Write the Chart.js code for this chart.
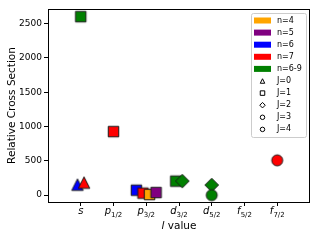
<!DOCTYPE html>
<html>
<head>
<meta charset="utf-8">
<script src="https://cdn.jsdelivr.net/npm/chart.js@4.4.1/dist/chart.umd.min.js"></script>
<style>
  html, body { margin: 0; padding: 0; background: #fff; }
  #wrap { width: 320px; height: 240px; }
</style>
</head>
<body>
<div id="wrap"><canvas id="scatterChart" width="320" height="240"></canvas></div>
<script>
//data
var lNames = ["s", "p", "p", "d", "d", "f", "f"];
var lSubs = ["", "1/2", "3/2", "3/2", "5/2", "5/2", "7/2"];

var nLabels = ["n=4", "n=5", "n=6", "n=7", "n=6-9"];
var nColors = ["#ffa500", "#800080", "#0000ff", "#ff0000", "#008000"];

var jLabels = ["J=0", "J=1", "J=2", "J=3", "J=4"];
var jShapes = ["triangle", "square", "diamond", "circle", "circle"];

// one entry per marker: l index, small x shift, n group, J, cross section
var ptL = [0, 0, 0, 1, 2, 2, 2, 2, 3, 3, 4, 4, 6];
var ptShift = [-0.1, 0.1, 0, 0, -0.3, -0.1, 0.1, 0.3, -0.1, 0.1, 0, 0, 0];
var ptN = [2, 3, 4, 3, 2, 3, 0, 1, 4, 4, 4, 4, 3];
var ptJ = [0, 0, 1, 1, 1, 1, 1, 1, 1, 2, 2, 3, 4];
var ptY = [153, 183, 2600, 926, 72, 29, 9, 38, 204, 205, 147, 0, 507];

var yTicks = [0, 500, 1000, 1500, 2000, 2500];

var FONT = "'DejaVu Sans', sans-serif";

//markers
function shapePath(ctx, shape, cx, cy, s) {
  var h = s / 2;
  ctx.beginPath();
  if (shape === "square") {
    ctx.rect(cx - h, cy - h, s, s);
  } else if (shape === "triangle") {
    ctx.moveTo(cx, cy - h);
    ctx.lineTo(cx + h, cy + h);
    ctx.lineTo(cx - h, cy + h);
    ctx.closePath();
  } else if (shape === "diamond") {
    ctx.moveTo(cx, cy - h);
    ctx.lineTo(cx + h, cy);
    ctx.lineTo(cx, cy + h);
    ctx.lineTo(cx - h, cy);
    ctx.closePath();
  } else {
    ctx.arc(cx, cy, h, 0, Math.PI * 2);
  }
}

var markerSize = { square: 10.5, triangle: 11.5, diamond: 13.5, circle: 11 };

function makeMarker(shape, fill) {
  var s = markerSize[shape];
  var c = document.createElement("canvas");
  c.width = Math.ceil(s) + 4;
  c.height = Math.ceil(s) + 4;
  var ctx = c.getContext("2d");
  shapePath(ctx, shape, c.width / 2, c.height / 2, s);
  ctx.fillStyle = fill;
  ctx.fill();
  ctx.lineWidth = 1;
  ctx.strokeStyle = "#1a1a1a";
  ctx.stroke();
  return c;
}

var points = ptY.map(function (v, i) {
  return { x: ptL[i] + ptShift[i], y: v };
});
var pointStyles = ptY.map(function (v, i) {
  return makeMarker(jShapes[ptJ[i]], nColors[ptN[i]]);
});

//extra drawing: frame, l labels, axis titles, legend
var extrasPlugin = {
  id: "extras",
  afterDraw: function (chart) {
    var ctx = chart.ctx;
    var a = chart.chartArea;
    var xs = chart.scales.x;
    ctx.save();

    ctx.strokeStyle = "#000";
    ctx.lineWidth = 1;
    ctx.strokeRect(a.left + 0.5, a.top + 0.5, a.right - a.left - 1, a.bottom - a.top);

    // x tick labels with subscripts
    ctx.fillStyle = "#000";
    ctx.textBaseline = "alphabetic";
    ctx.textAlign = "left";
    lNames.forEach(function (name, i) {
      var px = xs.getPixelForValue(i);
      ctx.font = "italic 10px " + FONT;
      var w1 = ctx.measureText(name).width;
      ctx.font = "7px " + FONT;
      var w2 = lSubs[i] ? ctx.measureText(lSubs[i]).width : 0;
      var x0 = px - (w1 + w2) / 2;
      ctx.font = "italic 10px " + FONT;
      ctx.fillText(name, x0, 214);
      if (lSubs[i]) {
        ctx.font = "7px " + FONT;
        ctx.fillText(lSubs[i], x0 + w1, 217);
      }
    });

    // x title
    ctx.textBaseline = "middle";
    ctx.font = "italic 10.5px " + FONT;
    var wl = ctx.measureText("l").width;
    ctx.font = "10.5px " + FONT;
    var wv = ctx.measureText(" value").width;
    var cx = (a.left + a.right) / 2;
    var sx = cx - (wl + wv) / 2;
    ctx.font = "italic 10.5px " + FONT;
    ctx.fillText("l", sx, 226);
    ctx.font = "10.5px " + FONT;
    ctx.fillText(" value", sx + wl, 226);

    // y title
    ctx.save();
    ctx.translate(12, (a.top + a.bottom) / 2);
    ctx.rotate(-Math.PI / 2);
    ctx.textAlign = "center";
    ctx.font = "10.5px " + FONT;
    ctx.fillText("Relative Cross Section", 0, 0);
    ctx.restore();

    // legend box
    var bx = 251.5, by = 13.5, bw = 55, bh = 124, r = 2;
    ctx.beginPath();
    ctx.moveTo(bx + r, by);
    ctx.arcTo(bx + bw, by, bx + bw, by + bh, r);
    ctx.arcTo(bx + bw, by + bh, bx, by + bh, r);
    ctx.arcTo(bx, by + bh, bx, by, r);
    ctx.arcTo(bx, by, bx + bw, by, r);
    ctx.closePath();
    ctx.fillStyle = "rgba(255,255,255,0.8)";
    ctx.fill();
    ctx.strokeStyle = "#cccccc";
    ctx.stroke();

    ctx.font = "8px " + FONT;
    ctx.textAlign = "left";
    ctx.textBaseline = "middle";
    var rowY = 20.5;
    nLabels.forEach(function (lab, i) {
      ctx.fillStyle = nColors[i];
      ctx.fillRect(254, rowY - 3, 17, 6);
      ctx.fillStyle = "#000";
      ctx.fillText(lab, 277, rowY);
      rowY += 12.1;
    });
    jLabels.forEach(function (lab, i) {
      shapePath(ctx, jShapes[i], 262.5, rowY, jShapes[i] === "diamond" ? 5.5 : 4.5);
      ctx.fillStyle = "#fff";
      ctx.fill();
      ctx.strokeStyle = "#000";
      ctx.lineWidth = 1;
      ctx.stroke();
      ctx.fillStyle = "#000";
      ctx.fillText(lab, 277, rowY);
      rowY += 12.1;
    });

    ctx.restore();
  }
};

//chart
var ctxS = document.getElementById("scatterChart").getContext("2d");
var myScatter = new Chart(ctxS, {
  type: "scatter",
  data: {
    datasets: [
      {
        data: points,
        pointStyle: pointStyles,
        pointRadius: 6,
        backgroundColor: ptN.map(function (n) { return nColors[n]; })
      }
    ]
  },
  options: {
    responsive: false,
    animation: false,
    events: [],
    layout: { padding: { left: 0, top: 9, right: 10, bottom: 0 } },
    plugins: {
      legend: { display: false },
      tooltip: { enabled: false }
    },
    scales: {
      x: {
        type: "linear",
        min: -1,
        max: 7,
        afterBuildTicks: function (scale) {
          scale.ticks = lNames.map(function (n, i) { return { value: i }; });
        },
        afterFit: function (scale) { scale.height = 38; },
        ticks: { callback: function () { return ""; } },
        grid: { drawOnChartArea: false, drawTicks: true, tickLength: 4, color: "#000" },
        border: { display: false }
      },
      y: {
        min: -100,
        max: 2712,
        afterBuildTicks: function (scale) {
          scale.ticks = yTicks.map(function (v) { return { value: v }; });
        },
        afterFit: function (scale) { scale.width = 48; },
        ticks: {
          padding: 2,
          color: "#000",
          font: { family: "DejaVu Sans", size: 9 },
          callback: function (v) { return String(v); }
        },
        grid: { drawOnChartArea: false, drawTicks: true, tickLength: 4, color: "#000" },
        border: { display: false }
      }
    }
  },
  plugins: [extrasPlugin]
});
</script>
</body>
</html>
